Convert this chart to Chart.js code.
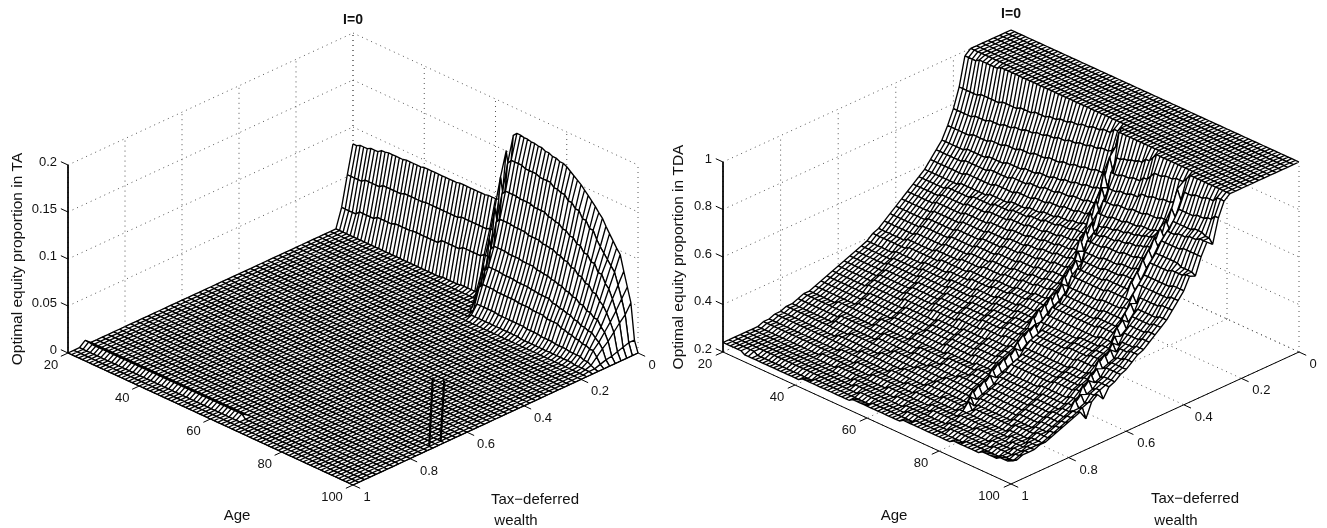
<!DOCTYPE html>
<html><head><meta charset="utf-8">
<style>html,body{margin:0;padding:0;background:#fff;width:1327px;height:528px;overflow:hidden}
canvas{position:absolute;top:0;display:block}</style>
<script src="https://cdn.jsdelivr.net/npm/chart.js@4"></script>
</head><body>
<canvas id="ta" width="660" height="528" style="left:0"></canvas>
<canvas id="tda" width="667" height="528" style="left:660px"></canvas>
<script>
// ---- axes / text
const ageTicks = [20,40,60,80,100];
const wealthTicks = [0,0.2,0.4,0.6,0.8,1];
const taZTicks = [0,0.05,0.1,0.15,0.2];
const tdaZTicks = [0.2,0.4,0.6,0.8,1];
const taZLabels = ['0','0.05','0.1','0.15','0.2'];
const tdaZLabels = ['0.2','0.4','0.6','0.8','1'];
const wealthLabels = ['0','0.2','0.4','0.6','0.8','1'];
const panelTitle = 'I=0';
const taYTitle = 'Optimal equity proportion in TA';
const tdaYTitle = 'Optimal equity proportion in TDA';
const xTitle = 'Age';
const wealthTitle = ['Tax\u2212deferred','wealth'];
const wealthStep = 0.02, rowCount = 51, ageFirst = 20, ageLast = 100;

// ---- TA surface: readings per wealth row (row index = wealth / 0.02), as pairs [age from, value]. Rows not listed read 0.
const taRows = {
 0:[20,.082,22,.084,25,.086,28,.089,30,.090,35,.091,40,.092,50,.093,58,.094,61,.095,62,.105,63,.15,64,.125,65,.17,66,.174,68,.173,70,.172,72,.171,74,.169,76,.167,78,.165,80,.163,81,.160,82,.157,83,.154,84,.151,85,.147,86,.143,87,.139,88,.135,89,.130,90,.126,91,.119,92,.113,93,.107,94,.101,95,.096,96,.08,97,.065,98,.05,99,.012,100,0],
 1:[20,.052,25,.055,30,.058,36,.060,42,.061,52,.063,60,.065,62,.075,63,.125,64,.10,65,.143,66,.148,70,.146,74,.144,78,.140,80,.138,82,.133,84,.128,86,.121,88,.114,90,.106,91,.100,92,.095,93,.090,94,.085,95,.080,96,.068,97,.055,98,.04,99,.012,100,0],
 2:[20,.020,25,.024,30,.027,35,.029,40,.030,48,.034,54,.037,60,.040,62,.05,63,.095,64,.075,65,.113,66,.118,70,.117,74,.115,78,.112,80,.110,82,.106,84,.102,86,.097,88,.091,90,.085,92,.077,94,.069,95,.065,96,.056,97,.045,98,.034,99,.01,100,0],
 3:[20,0,50,.001,55,.002,60,.004,62,.015,63,.065,64,.045,65,.086,66,.091,70,.090,74,.088,78,.086,80,.085,82,.082,84,.079,86,.075,88,.070,90,.065,92,.059,94,.053,95,.050,96,.044,97,.036,98,.027,99,.008,100,0],
 4:[20,0,62,.003,63,.04,64,.02,65,.06,66,.065,70,.064,74,.063,78,.061,80,.060,82,.058,84,.056,86,.053,88,.050,90,.046,92,.042,94,.038,96,.032,97,.028,98,.02,99,.006,100,0],
 5:[20,0,63,.02,64,.01,65,.04,66,.046,70,.045,74,.044,78,.043,80,.042,84,.039,86,.037,88,.035,90,.032,92,.029,94,.027,96,.023,97,.02,98,.015,99,.005,100,0],
 6:[20,0,64,.012,65,.025,66,.030,70,.029,76,.028,80,.027,84,.025,88,.022,90,.020,92,.018,94,.016,96,.014,98,.009,99,.003,100,0],
 7:[20,0,65,.004,66,.012,72,.011,80,.010,84,.009,88,.008,92,.007,96,.005,98,.003,99,.001,100,0],
 8:[20,0,66,.003,80,.002,95,.001,100,0],
 47:[20,.005,22,.004,65,0]
};
// thin spikes on the TA floor: [age at foot, wealth, age at tip, height]
const taSpikes = [[99,0.72,100,0.075],[99,0.68,100,0.066]];

// ---- TDA surface: same layout, values in percent, one entry per wealth row
const tdaRows = [
[20,100],[20,100],[20,100],[20,100],[20,100],[20,100],[20,100],[20,100],
[20,98,24,99,30,100],
[20,86,26,87,32,88,37,89,41,90,45,91,48,92,51,93,54,94,57,95,60,96,63,98,65,100],
[20,78,26,79,30,80,34,81,37,82,40,83,43,84,46,85,49,86,52,87,55,88,58,89,61,90,64,91,65,93,66,100],
[20,72,27,73,32,74,36,75,40,76,44,77,48,78,52,79,55,80,58,81,61,82,64,83,65,90,66,84,67,91,69,92,71,93,73,94,75,96,77,98,78,100],
[20,67,27,68,33,69,38,70,43,71,47,72,51,73,54,74,57,75,60,76,63,77,65,85,66,79,67,86,70,87,73,88,76,90,78,92,79,94,82,95,85,96,88,98,89,100],
[20,64,28,65,35,66,41,67,46,68,50,69,54,70,58,71,62,72,65,73,66,80,67,75,68,81,71,82,74,83,77,85,80,86,83,87,86,88,87,94,88,90,89,94,92,95,95,96,98,98],
[20,61,30,62,38,63,44,64,49,65,53,66,57,67,61,68,64,69,66,76,67,71,68,77,72,78,76,79,80,80,84,81,87,87,88,84,89,88,94,89,97,90,99,92],
[20,58,30,59,38,60,44,61,49,62,53,63,57,64,61,65,64,66,66,72,67,67,68,73,72,74,76,75,80,76,84,77,87,83,88,80,89,84,95,85,98,84,100,82],
[20,56,28,57,35,58,41,59,46,60,51,61,55,62,59,63,63,64,67,65,68,70,69,65,70,70,72,71,75,72,78,73,81,74,83,75,85,76,87,81,88,78,89,81,92,82,95,83,98,84],
[20,54,28,55,35,56,41,57,47,58,52,59,57,60,61,61,65,62,67,63,68,68,69,63,70,68,73,69,77,70,80,71,83,72,85,73,87,78,88,75,89,78,95,79],
[20,52,28,53,36,54,43,55,49,56,54,57,58,58,62,59,66,60,68,66,69,61,70,66,75,67,80,68,84,69,86,70,87,74,88,71,89,74,96,73,100,72],
[20,50,29,51,37,52,44,53,50,54,55,55,59,56,63,57,67,58,69,62,70,58,71,63,76,64,81,65,85,66,87,71,88,68,89,71,95,72,99,73],
[20,48,29,49,37,50,44,51,50,52,55,53,60,54,64,55,68,56,70,60,71,56,72,61,78,62,83,63,87,67,88,64,89,67,97,68],
[20,46,29,47,37,48,44,49,50,50,56,51,61,52,65,53,69,54,70,58,71,54,72,59,80,60,87,64,88,61,89,64,98,65],
[20,44,29,45,37,46,44,47,50,48,56,49,61,50,65,51,69,52,70,56,71,52,72,57,82,58,89,61,90,58,91,61,97,62],
[20,42,28,43,36,44,43,45,49,46,55,47,60,48,64,49,68,50,71,54,72,50,73,54,82,55,88,56,90,59,91,56,92,58,98,59],
[20,41,30,42,39,43,47,44,54,45,60,46,65,47,69,48,71,52,72,48,73,52,84,53,90,56,91,53,92,56,98,57],
[20,39,28,40,36,41,43,42,49,43,55,44,60,45,65,46,70,47,71,51,72,47,73,50,84,51,90,52,91,55,92,52,93,54,98,55],
[20,38,29,39,37,40,45,41,52,42,58,43,64,44,69,45,71,49,72,45,73,49,86,50,91,53,92,50,93,52,98,53],
[20,37,29,38,38,39,46,40,53,41,59,42,65,43,70,44,71,48,72,44,73,47,88,48,92,51,93,48,94,50,98,51],
[20,36,30,37,39,38,47,39,54,40,60,41,66,42,70,43,71,46,72,42,73,45,84,46,90,47,93,50,94,47,95,49,98,50],
[20,35,30,36,39,37,47,38,54,39,60,40,66,41,71,42,73,45,74,42,75,44,84,45,90,46,94,49,95,46,96,47,98,48],
[20,34,30,35,39,36,47,37,54,38,60,39,66,40,71,41,73,44,74,41,75,43,84,44,90,45,94,48,95,45,96,46],
[20,33,30,34,40,35,48,36,55,37,62,38,68,39,72,40,73,43,74,40,75,42,88,43,93,44,94,47,95,44,96,45],
[20,32,32,33,42,34,51,35,58,36,65,37,71,38,73,41,74,38,75,40,88,41,93,42,95,45,96,42,97,43],
[20,31,32,32,42,33,51,34,58,35,65,36,71,37,74,40,75,37,76,39,88,40,93,41,95,44,96,41,97,42],
[20,30,32,31,42,32,51,33,58,34,65,35,71,36,74,39,75,36,76,38,88,39,94,40,96,43,97,40,98,41,100,38],
[20,29,28,30,40,31,50,32,58,33,66,34,72,35,74,38,75,35,76,37,88,38,94,39,96,42,97,39,98,40,100,41],
[20,29,40,30,50,31,60,32,68,33,73,34,74,37,75,34,76,35,86,36,94,37,97,40,98,37,99,38,100,39],
[20,28,32,29,44,30,54,31,62,32,70,33,74,36,75,33,76,34,88,35,95,36,97,39,98,36,99,37,100,33],
[20,27,32,28,44,29,54,30,62,31,70,32,75,35,76,32,77,33,88,34,95,35,98,36,100,37],
[20,27,38,28,50,29,60,30,68,31,75,34,76,31,77,32,88,33,94,34,98,35,100,36],
[20,26,36,27,48,28,58,29,66,30,75,33,76,30,77,31,88,32,94,33,98,34,100,35],
[20,26,44,27,56,28,65,29,75,32,76,29,77,30,88,31,94,32,98,33,100,34],
[20,25,40,26,54,27,64,28,76,31,77,28,78,29,88,30,94,31,98,32,100,33],
[20,25,46,26,60,27,70,28,77,31,78,28,79,29,90,30,96,31,100,32],
[20,24,38,25,52,26,64,27,76,28,90,29,96,30,100,31],
[20,24,44,25,58,26,70,27,78,28,92,29,97,30,100,31],
[20,24,50,25,62,26,72,27,84,28,94,29,98,30],
[20,24,52,25,66,26,78,27,90,28,96,29,99,30],
[20,24,55,25,68,26,80,27,92,28,98,29,100,30],
[20,24,28,23,44,24,60,25,72,26,86,27,96,28,100,29],
[20,24,26,23,42,24,56,25,70,26,84,27,92,28,97,29,100,30]
];

// ---- view of each 3-D box
const taView  = {id:'ta', xMin:0, xMax:660, back:[353,221], age:[285,132], wealth:[-285,132], up:[0,-188], zMin:0, zMax:0.2,
  ageDx:-17, wDx:19, singleDx:14, zLabelDx:-11, titleXY:[353,20], yTitleXY:[18,259], yTitle:taYTitle, xTitleXY:[237,516], wTitleXY:[[535,500],[516,521]],
  zTicks:taZTicks, zLabels:taZLabels, spikes:taSpikes};
const tdaView = {id:'tda', xMin:660, xMax:1327, back:[1011,220], age:[288,132], wealth:[-288,132], up:[0,-190], zMin:0.2, zMax:1,
  ageDx:-18, wDx:20, singleDx:14, zLabelDx:-11, titleXY:[1011,14], yTitleXY:[679,257], yTitle:tdaYTitle, xTitleXY:[894,516], wTitleXY:[[1195,499],[1176,521]],
  zTicks:tdaZTicks, zLabels:tdaZLabels, spikes:[]};

function rowValues(steps, scale){
  const out=[]; let p=0;
  for(let a=ageFirst;a<=ageLast;a++){
    while(p+2<steps.length && steps[p+2]<=a) p+=2;
    out.push(steps[p+1]*scale);
  }
  return out;
}
const taGrid = Array.from({length:rowCount},(_,i)=>rowValues(taRows[i]||[20,0],1));
const tdaGrid = tdaRows.map(r=>rowValues(r,0.01));

function buildProject(v){
  return (a,w,z)=>{
    const ta=(a-ageFirst)/(ageLast-ageFirst), tz=(z-v.zMin)/(v.zMax-v.zMin);
    return {x:v.back[0]+ta*v.age[0]+w*v.wealth[0]+tz*v.up[0], y:v.back[1]+ta*v.age[1]+w*v.wealth[1]+tz*v.up[1]};
  };
}
const GAP={x:null,y:null};
const meshWidth=1.35;

function buildChart(v,grid){
  const P=buildProject(v), ds=[];
  const base={showLine:true,pointRadius:0,pointHoverRadius:0,tension:0,borderJoinStyle:'round',spanGaps:false};
  // dotted grid on the back planes
  const dots=[], top=v.zMax, lo=v.zMin;
  const seg=(p,q)=>{dots.push(p,q,GAP);};
  v.zTicks.forEach(z=>{seg(P(20,1,z),P(20,0,z));seg(P(20,0,z),P(100,0,z));});
  ageTicks.forEach(a=>{seg(P(a,0,lo),P(a,0,top));seg(P(a,0,lo),P(a,1,lo));});
  wealthTicks.forEach(w=>{seg(P(20,w,lo),P(20,w,top));seg(P(20,w,lo),P(100,w,lo));});
  ds.push({...base,data:dots,borderColor:'#555',borderWidth:1,borderDash:[1,4],fill:false});
  // surface, painted strip by strip from the back row to the front row
  const ages=[];for(let a=ageFirst;a<=ageLast;a++)ages.push(a);
  for(let i=0;i<rowCount-1;i++){
    const w0=i*wealthStep,w1=(i+1)*wealthStep,r0=grid[i],r1=grid[i+1];
    const poly=[],mesh=[];
    ages.forEach((a,k)=>poly.push(P(a,w0,r0[k])));
    for(let k=ages.length-1;k>=0;k--)poly.push(P(ages[k],w1,r1[k]));
    poly.push(poly[0]);
    ds.push({...base,data:poly,borderWidth:0,borderColor:'rgba(0,0,0,0)',backgroundColor:'#fff',fill:'shape'});
    ages.forEach((a,k)=>mesh.push(P(a,w0,r0[k])));mesh.push(GAP);
    ages.forEach((a,k)=>mesh.push(P(a,w1,r1[k])));mesh.push(GAP);
    ages.forEach((a,k)=>{mesh.push(P(a,w0,r0[k]),P(a,w1,r1[k]),GAP);});
    ds.push({...base,data:mesh,borderColor:'#000',borderWidth:meshWidth,fill:false});
  }
  if(v.spikes.length){
    const sp=[];
    v.spikes.forEach(s=>sp.push(P(s[0],s[1],lo),P(s[2],s[1],s[3]),GAP));
    ds.push({...base,data:sp,borderColor:'#000',borderWidth:2.2,fill:false});
  }
  // solid axes with ticks
  const axis=[P(20,1,v.zMax),P(20,1,lo),P(100,1,lo),P(100,0,lo),GAP];
  v.zTicks.forEach(z=>axis.push(P(20,1,z),P(18,1,z),GAP));
  ageTicks.forEach(a=>axis.push(P(a,1,lo),P(a,1.025,lo),GAP));
  wealthTicks.forEach(w=>axis.push(P(100,w,lo),P(102,w,lo),GAP));
  ds.push({...base,data:axis,borderColor:'#000',borderWidth:1,fill:false});
  ds.reverse(); // Chart.js paints the first dataset last

  const textPlugin={id:'boxText',afterDraw(c){
    const ctx=c.ctx,X=c.scales.x,Y=c.scales.y;
    const put=(t,x,y,align,font,rot)=>{ctx.save();ctx.translate(X.getPixelForValue(x),Y.getPixelForValue(y));if(rot)ctx.rotate(rot);
      ctx.font=font;ctx.fillStyle='#111';ctx.textAlign=align;ctx.textBaseline='middle';ctx.fillText(t,0,0);ctx.restore();};
    const f='13px "Liberation Sans"';
    v.zTicks.forEach((z,i)=>{const p=P(20,1,z);put(v.zLabels[i],p.x+v.zLabelDx,p.y-3,'right',f);});
    ageTicks.forEach(a=>{const p=P(a,1,lo);put(String(a),p.x+(a===100?v.ageDx-4:v.ageDx),p.y+12.5,'center',f);});
    wealthTicks.forEach((w,i)=>{const p=P(100,w,lo);put(wealthLabels[i],p.x+(i===0||i===5?v.singleDx:v.wDx),p.y+12.5,'center',f);});
    put(panelTitle,v.titleXY[0],v.titleXY[1],'center','bold 14px "Liberation Sans"');
    put(xTitle,v.xTitleXY[0],v.xTitleXY[1],'center','15px "Liberation Sans"');
    wealthTitle.forEach((t,i)=>put(t,v.wTitleXY[i][0],v.wTitleXY[i][1],'center','15px "Liberation Sans"'));
    put(v.yTitle,v.yTitleXY[0],v.yTitleXY[1],'center','15.5px "Liberation Sans"',-Math.PI/2);
  }};

  return new Chart(document.getElementById(v.id),{type:'scatter',data:{datasets:ds},plugins:[textPlugin],options:{
    responsive:false,animation:false,events:[],devicePixelRatio:1,
    layout:{padding:0},
    plugins:{legend:{display:false},tooltip:{enabled:false},title:{display:false}},
    scales:{x:{type:'linear',display:false,min:v.xMin,max:v.xMax},y:{type:'linear',display:false,reverse:true,min:0,max:528}}
  }});
}
buildChart(taView,taGrid);
buildChart(tdaView,tdaGrid);
</script>
</body></html>
